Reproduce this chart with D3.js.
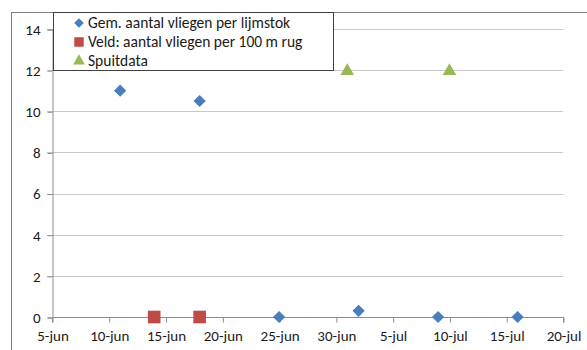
<!DOCTYPE html>
<meta charset="utf-8">
<head>
<style>
  body { margin: 0; background: #fff; }
  text { font-family: Carlito, Lato, sans-serif; font-size: 15px; fill: #1a1a1a; }
  .legend text { font-size: 15.5px; }
</style>
<script src="https://cdn.jsdelivr.net/npm/d3@7"></script>
</head>
<body>
<script>
// data
const flyDates = ["2013-06-11", "2013-06-18", "2013-06-25", "2013-07-02", "2013-07-09", "2013-07-16"]
const flyValues = [11, 10.5, 0, 0.3, 0, 0]
const fieldDates = ["2013-06-14", "2013-06-18"]
const fieldValues = [0, 0]
const sprayDates = ["2013-07-01", "2013-07-10"]
const sprayValues = [12, 12]
const yTicks = [0, 2, 4, 6, 8, 10, 12, 14]
const legendLabels = ["Gem. aantal vliegen per lijmstok", "Veld: aantal vliegen per 100 m rug", "Spuitdata"]
const months = ["jan", "feb", "mrt", "apr", "mei", "jun", "jul", "aug", "sep", "okt", "nov", "dec"]

const width = 587, height = 350
const parse = d3.timeParse("%Y-%m-%d")

const svg = d3.select("body").append("svg")
    .attr("width", width)
    .attr("height", height)

// outer chart border
svg.append("rect")
    .attr("x", 11.5).attr("y", 12.5)
    .attr("width", 600).attr("height", 360)
    .attr("fill", "none").attr("stroke", "#7f7f7f")

const x = d3.scaleTime()
    .domain([parse("2013-06-05"), parse("2013-07-20")])
    .range([52, 563])
const y = d3.scaleLinear()
    .domain([0, 14])
    .range([317, 29])

// gridlines
svg.append("g").selectAll("line")
    .data(yTicks.filter(d => d > 0))
    .enter().append("line")
    .attr("x1", 47).attr("x2", 563)
    .attr("y1", d => Math.round(y(d)) + 0.5)
    .attr("y2", d => Math.round(y(d)) + 0.5)
    .attr("stroke", "#c8c8c8")

// y axis
const yAxis = svg.append("g")
    .attr("transform", "translate(52.5,0.5)")
    .call(d3.axisLeft(y).tickValues(yTicks).tickSize(5).tickPadding(7))
yAxis.select(".domain").attr("stroke", "#8c8c8c")
yAxis.selectAll(".tick line").attr("stroke", "#8c8c8c")
yAxis.selectAll("text").attr("font-size", null).attr("fill", null).attr("font-family", null)

// x axis
const xTicks = d3.timeDay.range(parse("2013-06-05"), parse("2013-07-21"), 5)
const xAxis = svg.append("g")
    .attr("transform", "translate(0.5," + (Math.round(y(0)) + 0.5) + ")")
    .call(d3.axisBottom(x).tickValues(xTicks).tickSize(5).tickPadding(8)
        .tickFormat(d => d.getDate() + "-" + months[d.getMonth()]))
xAxis.select(".domain").attr("stroke", "#8c8c8c").attr("d", "M" + x.range()[0] + ",5V0H" + x.range()[1] + "V5")
xAxis.selectAll(".tick line").attr("stroke", "#8c8c8c")
xAxis.selectAll("text").attr("font-size", null).attr("fill", null).attr("font-family", null)

const diamond = d3.symbol().type(d3.symbolSquare).size(75)
const square = d3.symbol().type(d3.symbolSquare).size(160)
const triangle = d3.symbol().type(d3.symbolTriangle).size(80)

// series
svg.append("g").selectAll("path")
    .data(flyDates.map((d, i) => [parse(d), flyValues[i]]))
    .enter().append("path")
    .attr("d", diamond)
    .attr("transform", d => "translate(" + x(d[0]) + "," + y(d[1]) + ") rotate(45)")
    .attr("fill", "#4a7ebb")

svg.append("g").selectAll("path")
    .data(fieldDates.map((d, i) => [parse(d), fieldValues[i]]))
    .enter().append("path")
    .attr("d", square)
    .attr("transform", d => "translate(" + x(d[0]) + "," + y(d[1]) + ")")
    .attr("fill", "#be4b48")

svg.append("g").selectAll("path")
    .data(sprayDates.map((d, i) => [parse(d), sprayValues[i]]))
    .enter().append("path")
    .attr("d", triangle)
    .attr("transform", d => "translate(" + x(d[0]) + "," + (y(d[1]) + 1) + ")")
    .attr("fill", "#98b954")

// legend
const legend = svg.append("g").attr("class", "legend")
legend.append("rect")
    .attr("x", 53.5).attr("y", 12.5)
    .attr("width", 280).attr("height", 58)
    .attr("fill", "#fff").attr("stroke", "#404040")

const legendSymbols = [
    { d: d3.symbol().type(d3.symbolSquare).size(45)(), rot: 45, fill: "#4a7ebb" },
    { d: d3.symbol().type(d3.symbolSquare).size(90)(), rot: 0, fill: "#be4b48" },
    { d: d3.symbol().type(d3.symbolTriangle).size(60)(), rot: 0, fill: "#98b954" }
]
const items = legend.selectAll(".item")
    .data(legendLabels)
    .enter().append("g")
    .attr("transform", (d, i) => "translate(79," + (23 + i * 19) + ")")
items.append("path")
    .attr("d", (d, i) => legendSymbols[i].d)
    .attr("transform", (d, i) => "rotate(" + legendSymbols[i].rot + ")")
    .attr("fill", (d, i) => legendSymbols[i].fill)
items.append("text")
    .attr("x", 9)
    .attr("dy", "0.35em")
    .text(d => d)
</script>
</body>
